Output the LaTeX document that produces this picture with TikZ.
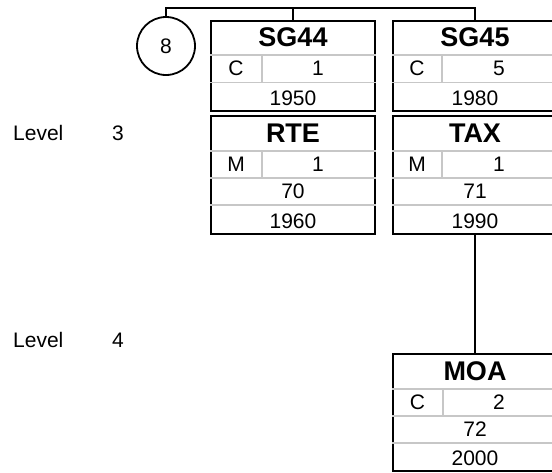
\documentclass[tikz,border=0pt]{standalone}
\usepackage{fontspec}
\setmainfont{Liberation Sans}
\usetikzlibrary{positioning}

\tikzset{
  segbox/.style={draw=black, line width=2pt, rectangle, inner sep=0pt, anchor=north west, minimum width=164pt},
  sepline/.style={draw=black!22, line width=1.6pt},
  link/.style={draw=black, line width=2pt},
  ttl/.style={font=\fontsize{27}{31}\selectfont\bfseries, inner sep=0pt},
  txt/.style={font=\fontsize{21}{25}\selectfont, inner sep=0pt},
}

\begin{document}
\begin{tikzpicture}[x=1pt, y=-1pt]
\useasboundingbox (0,0) rectangle (552,472);
\clip (0,0) rectangle (552,472);

% Level labels
\node[txt, anchor=west] (lev3) at (13,133) {Level};
\node[txt, anchor=west] (lev3n) at (112,133) {3};
\node[txt, anchor=west] (lev4) at (13,340) {Level};
\node[txt, anchor=west] (lev4n) at (112,340) {4};

% Group circle
\node[circle, draw, line width=1.8pt, minimum size=58pt, txt] (grp) at (166,46) {8};

% SG44: title, C | 1, 1950
\node[segbox, minimum height=90pt] (sg44) at (210,20) {};
\draw[sepline] ([yshift=-35pt]sg44.north west) -- ([yshift=-35pt]sg44.north east);
\draw[sepline] ([yshift=-62.5pt]sg44.north west) -- ([yshift=-62.5pt]sg44.north east);
\draw[sepline] ([xshift=52pt,yshift=-35pt]sg44.north west) -- ([xshift=52pt,yshift=-62.5pt]sg44.north west);
\node[ttl] (sg44t) at ([yshift=-17.5pt]sg44.north) {SG44};
\node[txt] (sg44s) at ([xshift=26pt,yshift=-48.75pt]sg44.north west) {C};
\node[txt] (sg44r) at ([xshift=108pt,yshift=-48.75pt]sg44.north west) {1};
\node[txt] (sg44p) at ([yshift=13.75pt]sg44.south) {1950};

% SG45: title, C | 5, 1980
\node[segbox, minimum height=90pt] (sg45) at (392,20) {};
\draw[sepline] ([yshift=-35pt]sg45.north west) -- ([yshift=-35pt]sg45.north east);
\draw[sepline] ([yshift=-62.5pt]sg45.north west) -- ([yshift=-62.5pt]sg45.north east);
\draw[sepline] ([xshift=50pt,yshift=-35pt]sg45.north west) -- ([xshift=50pt,yshift=-62.5pt]sg45.north west);
\node[ttl] (sg45t) at ([yshift=-17.5pt]sg45.north) {SG45};
\node[txt] (sg45s) at ([xshift=25pt,yshift=-48.75pt]sg45.north west) {C};
\node[txt] (sg45r) at ([xshift=107pt,yshift=-48.75pt]sg45.north west) {5};
\node[txt] (sg45p) at ([yshift=13.75pt]sg45.south) {1980};

% RTE: title, M | 1, 70, 1960
\node[segbox, minimum height=118pt] (rte) at (210,115) {};
\draw[sepline] ([yshift=-36pt]rte.north west) -- ([yshift=-36pt]rte.north east);
\draw[sepline] ([yshift=-63pt]rte.north west) -- ([yshift=-63pt]rte.north east);
\draw[sepline] ([yshift=-90pt]rte.north west) -- ([yshift=-90pt]rte.north east);
\draw[sepline] ([xshift=52pt,yshift=-36pt]rte.north west) -- ([xshift=52pt,yshift=-63pt]rte.north west);
\node[ttl] (rtet) at ([yshift=-18pt]rte.north) {RTE};
\node[txt] (rtes) at ([xshift=26pt,yshift=-49.5pt]rte.north west) {M};
\node[txt] (rter) at ([xshift=108pt,yshift=-49.5pt]rte.north west) {1};
\node[txt] (rtep) at ([yshift=-76.5pt]rte.north) {70};
\node[txt] (rteq) at ([yshift=14pt]rte.south) {1960};

% TAX: title, M | 1, 71, 1990
\node[segbox, minimum height=118pt] (tax) at (392,115) {};
\draw[sepline] ([yshift=-36pt]tax.north west) -- ([yshift=-36pt]tax.north east);
\draw[sepline] ([yshift=-63pt]tax.north west) -- ([yshift=-63pt]tax.north east);
\draw[sepline] ([yshift=-90pt]tax.north west) -- ([yshift=-90pt]tax.north east);
\draw[sepline] ([xshift=50pt,yshift=-36pt]tax.north west) -- ([xshift=50pt,yshift=-63pt]tax.north west);
\node[ttl] (taxt) at ([yshift=-18pt]tax.north) {TAX};
\node[txt] (taxs) at ([xshift=25pt,yshift=-49.5pt]tax.north west) {M};
\node[txt] (taxr) at ([xshift=107pt,yshift=-49.5pt]tax.north west) {1};
\node[txt] (taxp) at ([yshift=-76.5pt]tax.north) {71};
\node[txt] (taxq) at ([yshift=14pt]tax.south) {1990};

% MOA: title, C | 2, 72, 2000
\node[segbox, minimum height=117pt] (moa) at (392,353) {};
\draw[sepline] ([yshift=-36pt]moa.north west) -- ([yshift=-36pt]moa.north east);
\draw[sepline] ([yshift=-63pt]moa.north west) -- ([yshift=-63pt]moa.north east);
\draw[sepline] ([yshift=-90pt]moa.north west) -- ([yshift=-90pt]moa.north east);
\draw[sepline] ([xshift=51pt,yshift=-36pt]moa.north west) -- ([xshift=51pt,yshift=-63pt]moa.north west);
\node[ttl] (moat) at ([yshift=-18pt]moa.north) {MOA};
\node[txt] (moas) at ([xshift=25.5pt,yshift=-49.5pt]moa.north west) {C};
\node[txt] (moar) at ([xshift=107pt,yshift=-49.5pt]moa.north west) {2};
\node[txt] (moap) at ([yshift=-76.5pt]moa.north) {72};
\node[txt] (moaq) at ([yshift=13.5pt]moa.south) {2000};

% Connectors
\coordinate (bar) at (0,8);
\draw[link] (grp.north) -- (grp.north |- bar) -- (sg45.north |- bar) -- (sg45.north);
\draw[link] (sg44.north |- bar) -- (sg44.north);
\draw[link] (tax.south) -- (moa.north);

\end{tikzpicture}
\end{document}
